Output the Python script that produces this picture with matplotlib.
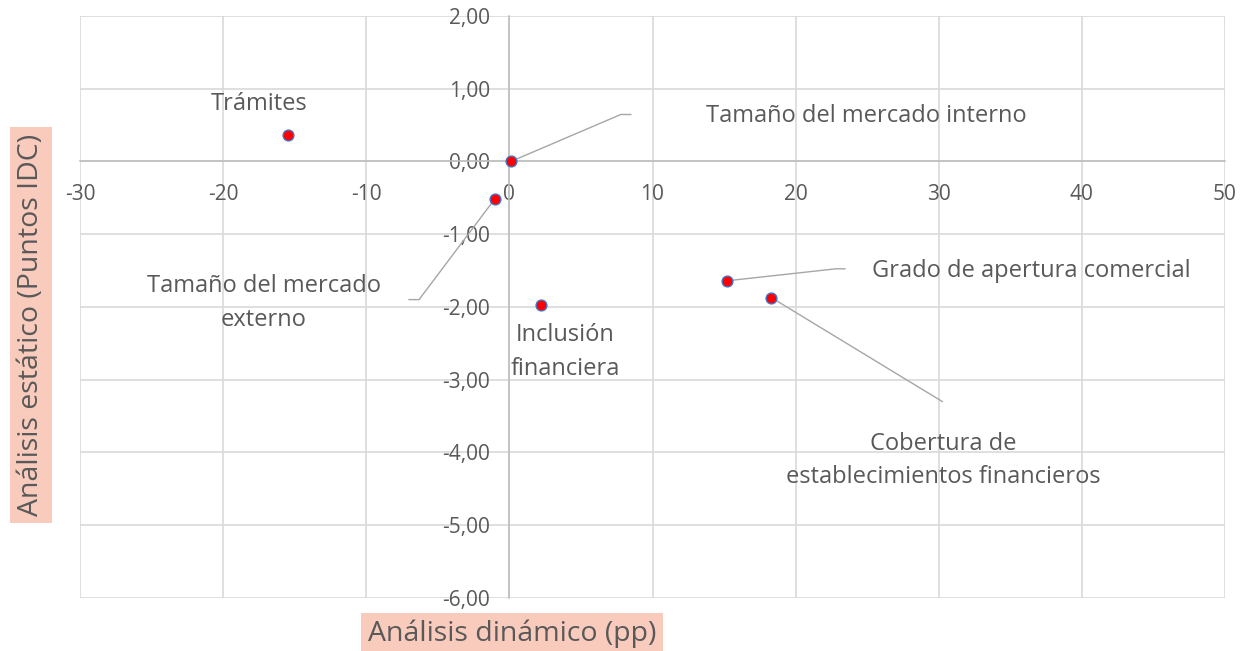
import matplotlib.pyplot as plt
import matplotlib.transforms as mtransforms
from matplotlib.ticker import FuncFormatter, MultipleLocator

plt.rcParams['font.family'] = ['Open Sans', 'DejaVu Sans']

# data
names = ['Trámites', 'Tamaño del mercado interno', 'Tamaño del mercado\nexterno',
         'Inclusión\nfinanciera', 'Grado de apertura comercial',
         'Cobertura de\nestablecimientos financieros']
dinamico = [-15.5, 0.1, -1.0, 2.2, 15.2, 18.3]
estatico = [0.37, 0.0, -0.51, -1.97, -1.64, -1.87]

text_col = '#595959'
grid_col = '#d9d9d9'
line_col = '#a6a6a6'

# label placement in pixels relative to the point: (label dx, dy, ha, leader path)
label_pos = {
    'Trámites': (-28, 31, 'center', None),
    'Tamaño del mercado interno': (195, 45, 'left', [(110, 47), (120, 47)]),
    'Tamaño del mercado\nexterno': (-231, -104, 'center', [(-76, -101), (-86, -101)]),
    'Inclusión\nfinanciera': (24, -47, 'center', None),
    'Grado de apertura comercial': (145, 10, 'left', [(109, 12), (118, 12)]),
    'Cobertura de\nestablecimientos financieros': (172, -163, 'center', [(171, -104)]),
}

fig = plt.figure(figsize=(12.48, 6.51), dpi=100)
ax = fig.add_axes([80 / 1248, 1 - 598 / 651, 1145 / 1248, 582 / 651])

ax.set_xlim(-30, 50)
ax.set_ylim(-6, 2)
ax.xaxis.set_major_locator(MultipleLocator(10))
ax.yaxis.set_major_locator(MultipleLocator(1))
ax.yaxis.set_major_formatter(FuncFormatter(lambda v, p: f'{v:.2f}'.replace('.', ',')))
ax.xaxis.set_major_formatter(FuncFormatter(lambda v, p: f'{v:.0f}'))

ax.grid(True, color=grid_col, linewidth=1.2)
ax.set_axisbelow(True)
for gl in ax.get_xgridlines() + ax.get_ygridlines():
    gl.set_clip_on(False)

ax.spines['left'].set_position('zero')
ax.spines['bottom'].set_position('zero')
ax.spines['top'].set_visible(False)
ax.spines['right'].set_visible(False)
for s in ['left', 'bottom']:
    ax.spines[s].set_color('#bfbfbf')
    ax.spines[s].set_linewidth(1.2)
ax.tick_params(length=0, labelsize=15, colors=text_col)
ax.tick_params(axis='x', pad=16)
ax.tick_params(axis='y', pad=14)

ax.scatter(dinamico, estatico, s=60, color='#ff0000', edgecolors='#4472c4',
           linewidths=1.0, zorder=5)

fig.canvas.draw()
ident = mtransforms.IdentityTransform()
for name, x, y in zip(names, dinamico, estatico):
    dx, dy, ha, path = label_pos[name]
    px, py = ax.transData.transform((x, y))
    if path:
        xs = [px] + [px + a for a, b in path]
        ys = [py] + [py + b for a, b in path]
        ax.plot(xs, ys, color=line_col, linewidth=1.0, transform=ident,
                clip_on=False, zorder=4)
    ax.annotate(name, (x, y), xytext=(dx, dy), textcoords='offset pixels',
                ha=ha, va='center', fontsize=17, color=text_col,
                multialignment='center', linespacing=1.55)

box = dict(facecolor='#f8cbbd', edgecolor='none', pad=5)
fig.text(512 / 1248, 1 - 634 / 651, 'Análisis dinámico (pp)', ha='center', va='center',
         fontsize=20.5, color=text_col, bbox=box)
fig.text(31 / 1248, 1 - 325 / 651, 'Análisis estático (Puntos IDC)', ha='center',
         va='center', rotation=90, fontsize=20.5, color=text_col, bbox=box)

fig.savefig('out.png', dpi=100)
